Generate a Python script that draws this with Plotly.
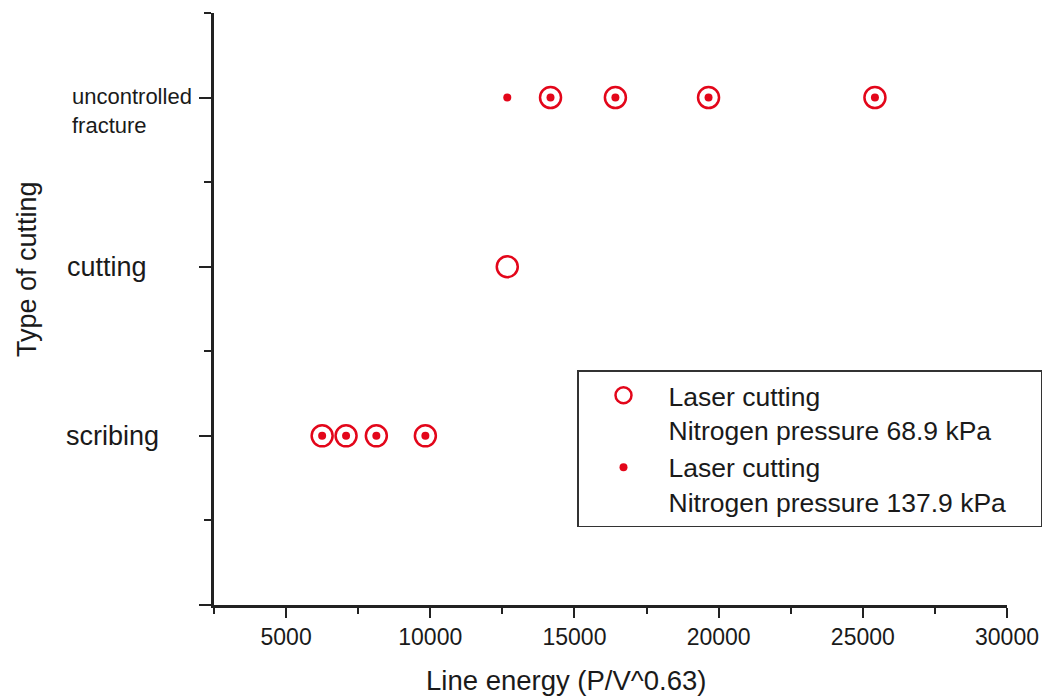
import plotly.graph_objects as go

# ---- data ----
type_labels = ["scribing", "cutting", "uncontrolled fracture"]
type_level = {"scribing": 1, "cutting": 2, "uncontrolled fracture": 3}

energy_68_9 = [6250, 7080, 8130, 9830, 12670, 14170, 16420, 19650, 25420]
type_68_9 = ["scribing", "scribing", "scribing", "scribing", "cutting",
             "uncontrolled fracture", "uncontrolled fracture",
             "uncontrolled fracture", "uncontrolled fracture"]

energy_137_9 = [6250, 7080, 8130, 9830, 12670, 14170, 16420, 19650, 25420]
type_137_9 = ["scribing", "scribing", "scribing", "scribing",
              "uncontrolled fracture", "uncontrolled fracture",
              "uncontrolled fracture", "uncontrolled fracture",
              "uncontrolled fracture"]

x_ticks = [5000, 10000, 15000, 20000, 25000, 30000]

RED = "#e3061a"
INK = "#1a1a1a"
FONT = "Liberation Sans, Arial, sans-serif"

L, R = 214, 38
PW = 1045 - L - R
T, B = 13, 93
PH = 698 - T - B

fig = go.Figure()
fig.add_trace(go.Scatter(
    x=energy_68_9, y=[type_level[t] for t in type_68_9], mode="markers",
    name="Laser cutting<br>Nitrogen pressure 68.9 kPa",
    marker=dict(symbol="circle-open", size=21, color=RED, line=dict(width=2.5, color=RED)),
))
fig.add_trace(go.Scatter(
    x=energy_137_9, y=[type_level[t] for t in type_137_9], mode="markers",
    name="Laser cutting<br>Nitrogen pressure 137.9 kPa\u00a0\u00a0\u00a0\u00a0",
    marker=dict(symbol="circle", size=8, color=RED),
))

fig.update_layout(
    width=1045, height=698,
    margin=dict(l=L, r=R, t=T, b=B, autoexpand=False),
    paper_bgcolor="white", plot_bgcolor="white",
    font=dict(family=FONT, color=INK),
    showlegend=True,
    legend=dict(
        x=(577 - L) / PW, y=(605 - 370) / PH, xanchor="left", yanchor="top",
        bgcolor="white", bordercolor="#333333", borderwidth=1.5,
        font=dict(size=26.5, family=FONT, color=INK),
        itemwidth=80, valign="top", tracegroupgap=0,
    ),
    xaxis=dict(
        range=[2500, 30000], tickvals=x_ticks, ticktext=[str(v) for v in x_ticks],
        showgrid=False, zeroline=False, showline=True, linecolor="#222222", linewidth=2.5,
        ticks="outside", ticklen=10, tickwidth=2, tickcolor="#222222",
        tickfont=dict(size=23, color=INK),
        minor=dict(tickvals=[2500, 7500, 12500, 17500, 22500, 27500], ticks="outside",
                   ticklen=6, tickwidth=2, tickcolor="#222222", showgrid=False),
    ),
    yaxis=dict(
        range=[0, 3.5], tickvals=[0, 1, 2, 3], showticklabels=False,
        showgrid=False, zeroline=False, showline=True, linecolor="#222222", linewidth=2.5,
        ticks="outside", ticklen=12, tickwidth=2, tickcolor="#222222",
        minor=dict(tickvals=[0.5, 1.5, 2.5, 3.5], ticks="outside",
                   ticklen=7, tickwidth=2, tickcolor="#222222", showgrid=False),
    ),
)

# y category labels (left aligned column)
label_style = {
    "scribing": dict(size=27, x=(64 - L) / PW, yshift=0),
    "cutting": dict(size=27, x=(65 - L) / PW, yshift=0),
    "uncontrolled fracture": dict(size=22, x=(70 - L) / PW, yshift=-13),
}
for lab in type_labels:
    st = label_style[lab]
    fig.add_annotation(
        text=lab.replace(" ", "<br>"), xref="paper", yref="y",
        x=st["x"], y=type_level[lab], xanchor="left", yanchor="middle",
        align="left", showarrow=False, yshift=st["yshift"],
        font=dict(size=st["size"], color=INK),
    )

# axis titles
fig.add_annotation(
    text="Line energy (P/V^0.63)", xref="paper", yref="paper",
    x=(566 - L) / PW, y=(605 - 680) / PH, xanchor="center", yanchor="middle",
    showarrow=False, font=dict(size=27.5, color=INK),
)
fig.add_annotation(
    text="Type of cutting", xref="paper", yref="paper", textangle=-90,
    x=(27 - L) / PW, y=(605 - 269) / PH, xanchor="center", yanchor="middle",
    showarrow=False, font=dict(size=27, color=INK),
)

fig.write_html("out.html")
